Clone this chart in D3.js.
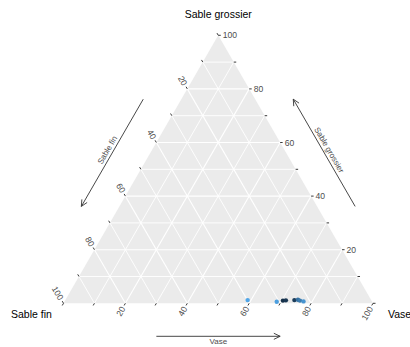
<!DOCTYPE html>
<html><head><meta charset="utf-8">
<script src="https://cdn.jsdelivr.net/npm/d3@7"></script>
<style>body{margin:0;background:#fff}svg{display:block}text{font-family:"Liberation Sans",Arial,sans-serif}</style>
</head><body>
<svg id="c" width="410" height="347"></svg>
<script>
// ---- data ----
const axisNames = ["Sable fin", "Vase", "Sable grossier"]; // left, right, top vertices
const sableFin      = [39.9, 30.8, 28.6, 27.6, 24.8, 23.6, 23.1, 22.1];
const vase          = [58.9, 68.6, 70.4, 71.3, 74.0, 75.1, 75.9, 77.2];
const sableGrossier = [1.2, 0.6, 1.0, 1.1, 1.2, 1.3, 1.0, 0.7];
const colourValue   = [0.92, 0.88, 0.04, 0.10, 0.14, 0.55, 0.62, 0.80];
const gridValues = [10, 20, 30, 40, 50, 60, 70, 80, 90];
const tickValues = [0, 10, 20, 30, 40, 50, 60, 70, 80, 90, 100];
const tickLabels = [20, 40, 60, 80, 100];

// ---- layout ----
const svg = d3.select("#c");
const S3 = Math.sqrt(3) / 2;
const X = d3.scaleLinear().domain([0, 1]).range([63.5, 373]);
const Y = d3.scaleLinear().domain([0, S3]).range([303.3, 35.3]);
// ternary (fin, vase, grossier) -> pixel
function proj(f, v, g) {
  const s = f + v + g;
  const vv = v / s, gg = g / s;
  return [X(vv + gg / 2), Y(gg * S3)];
}
const color = d3.scaleLinear().domain([0, 1]).range(["#132B43", "#56B1F7"]).interpolate(d3.interpolateLab);

// background triangle
const A = proj(0, 0, 100), L = proj(100, 0, 0), R = proj(0, 100, 0);
svg.append("path").attr("d", d3.line()([A, L, R]) + "Z").attr("fill", "#EBEBEB");

// grid lines
const grid = svg.append("g").attr("stroke", "#fff").attr("fill", "none");
gridValues.forEach(p => {
  const w = p % 20 === 0 ? 1.1 : 0.9;
  grid.append("line").attr("stroke-width", w)
    .attr("x1", proj(100 - p, 0, p)[0]).attr("y1", proj(100 - p, 0, p)[1])
    .attr("x2", proj(0, 100 - p, p)[0]).attr("y2", proj(0, 100 - p, p)[1]);
  grid.append("line").attr("stroke-width", w)
    .attr("x1", proj(100 - p, p, 0)[0]).attr("y1", proj(100 - p, p, 0)[1])
    .attr("x2", proj(0, p, 100 - p)[0]).attr("y2", proj(0, p, 100 - p)[1]);
  grid.append("line").attr("stroke-width", w)
    .attr("x1", proj(p, 100 - p, 0)[0]).attr("y1", proj(p, 100 - p, 0)[1])
    .attr("x2", proj(p, 0, 100 - p)[0]).attr("y2", proj(p, 0, 100 - p)[1]);
});

// ticks & labels
const tg = svg.append("g");
const tl = 2.5, gap = 2;
const dirs = { g: [1, 0], f: [-0.5, -S3], v: [-0.5, S3] };
tickValues.forEach(p => {
  const pts = { g: proj(0, 100 - p, p), f: proj(p, 0, 100 - p), v: proj(100 - p, p, 0) };
  Object.keys(pts).forEach(k => {
    const [x, y] = pts[k], [dx, dy] = dirs[k];
    tg.append("line").attr("x1", x).attr("y1", y)
      .attr("x2", x + dx * tl).attr("y2", y + dy * tl)
      .attr("stroke", "#222").attr("stroke-width", 0.9);
    if (tickLabels.includes(p)) {
      const lx = x + dx * (tl + gap), ly = y + dy * (tl + gap);
      const t = tg.append("text").text(p).attr("font-size", 8.6).attr("fill", "#4D4D4D")
        .attr("dominant-baseline", "central");
      if (k === "g") t.attr("x", lx).attr("y", ly).attr("text-anchor", "start");
      else if (k === "f") t.attr("text-anchor", "end").attr("transform", `translate(${lx},${ly}) rotate(60)`);
      else t.attr("text-anchor", "end").attr("transform", `translate(${lx},${ly}) rotate(-60)`);
    }
  });
});

// vertex titles
svg.append("text").attr("x", A[0]).attr("y", 18).attr("text-anchor", "middle")
  .attr("font-size", 10.5).attr("fill", "#000").text(axisNames[2]);
svg.append("text").attr("x", 11).attr("y", 318).attr("text-anchor", "start")
  .attr("font-size", 10.5).attr("fill", "#000").text(axisNames[0]);
svg.append("text").attr("x", 388).attr("y", 318).attr("text-anchor", "start")
  .attr("font-size", 10.5).attr("fill", "#000").text(axisNames[1]);

// axis arrows
const off = 33;
function arrow(p0, p1, n, label, rot) {
  const a = [p0[0] + n[0] * off, p0[1] + n[1] * off];
  const b = [p1[0] + n[0] * off, p1[1] + n[1] * off];
  svg.append("line").attr("x1", a[0]).attr("y1", a[1]).attr("x2", b[0]).attr("y2", b[1])
    .attr("stroke", "#333").attr("stroke-width", 0.9);
  const ang = Math.atan2(b[1] - a[1], b[0] - a[0]);
  const hl = 7, ha = 0.45;
  svg.append("path").attr("fill", "none").attr("stroke", "#333").attr("stroke-width", 0.9)
    .attr("d", d3.line()([
      [b[0] - hl * Math.cos(ang - ha), b[1] - hl * Math.sin(ang - ha)], b,
      [b[0] - hl * Math.cos(ang + ha), b[1] - hl * Math.sin(ang + ha)]]));
  const m = [(a[0] + b[0]) / 2 + n[0] * 5.5, (a[1] + b[1]) / 2 + n[1] * 5.5];
  svg.append("text").attr("text-anchor", "middle").attr("dominant-baseline", "central")
    .attr("font-size", 8).attr("fill", "#4D4D4D")
    .attr("transform", `translate(${m[0]},${m[1]}) rotate(${rot})`)
    .text(label);
}
arrow(proj(70, 30, 0), proj(30, 70, 0), [0, 1], axisNames[1], 0);
arrow(proj(30, 0, 70), proj(70, 0, 30), [-S3, -0.5], axisNames[0], -60);
arrow(proj(0, 70, 30), proj(0, 30, 70), [S3, -0.5], axisNames[2], 60);

// points
svg.append("g").selectAll("circle").data(vase.map((v, i) => i)).join("circle")
  .attr("cx", i => proj(sableFin[i], vase[i], sableGrossier[i])[0])
  .attr("cy", i => proj(sableFin[i], vase[i], sableGrossier[i])[1])
  .attr("r", 2.2)
  .attr("fill", i => color(colourValue[i]));
</script>
</body></html>
